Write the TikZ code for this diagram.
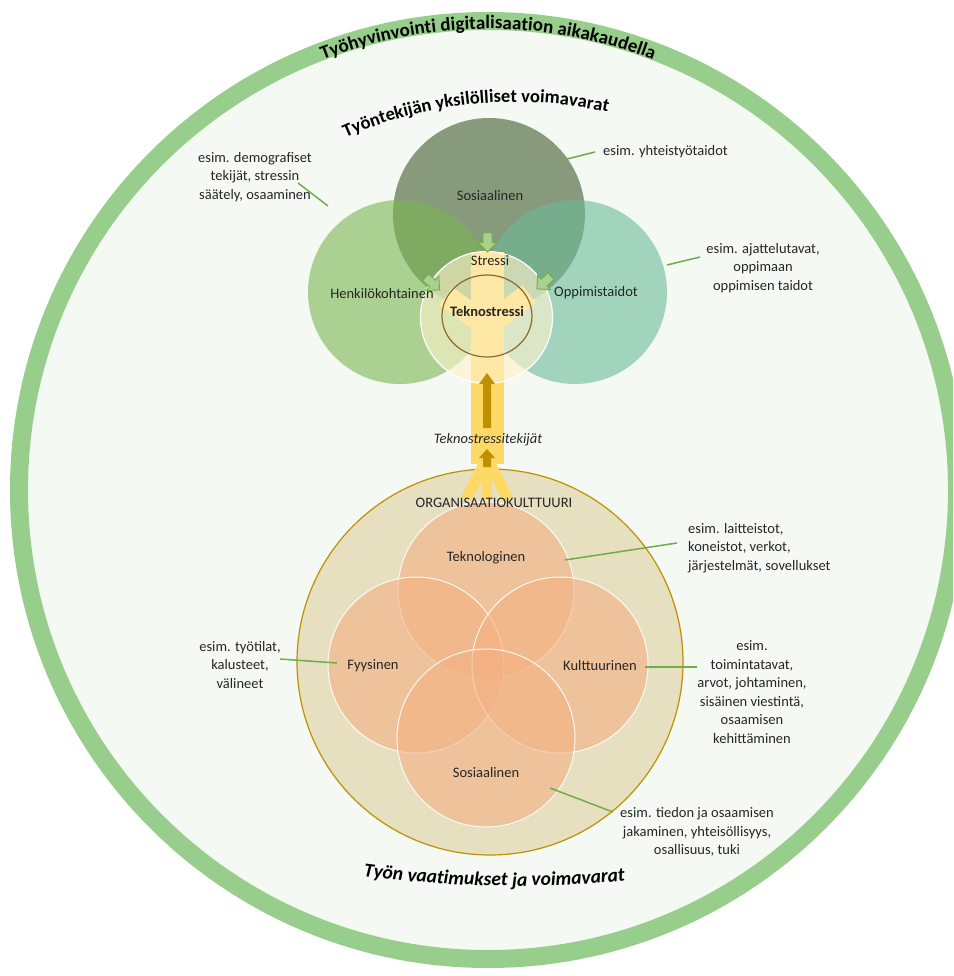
\documentclass[tikz,border=0pt]{standalone}
\usepackage{fontspec}
\setmainfont{Carlito}
\usetikzlibrary{decorations.text,shapes.geometric}
\definecolor{ringgreen}{HTML}{97CE8B}
\definecolor{bggreen}{HTML}{F4F9F3}
\definecolor{sosgreen}{HTML}{879A7C}
\definecolor{henkgreen}{HTML}{7AB552}
\definecolor{oppgreen}{HTML}{6CBC99}
\definecolor{leadergreen}{HTML}{70AD47}
\definecolor{arrowgreen}{HTML}{A9D18E}
\definecolor{bandyellow}{HTML}{FFD966}
\definecolor{gold}{HTML}{BF9000}
\definecolor{orgfill}{HTML}{E6DFC0}
\definecolor{orangec}{HTML}{F4B183}
\definecolor{cream}{HTML}{FFF2CC}
\definecolor{ellbrown}{HTML}{8C6A2E}
\definecolor{txt}{HTML}{262626}
\tikzset{
  disc/.style={circle, inner sep=0pt, minimum size=#1},
  lbl/.style={font=\fontsize{14.5}{18.5}\selectfont, text=txt, align=center, inner sep=0pt},
  leader/.style={draw=leadergreen, line width=1.5pt},
  orangedisc/.style={disc=#1, fill=orangec, fill opacity=0.6, draw=white, draw opacity=0.9, line width=1pt},
  garrowshape/.style={draw=leadergreen, fill=arrowgreen, line width=0.9pt, line join=miter},
  bandline/.style={draw=bandyellow, line width=#1}
}
\begin{document}
\begin{tikzpicture}[x=1pt,y=1pt]
\useasboundingbox (0,0) rectangle (953,-976);
\clip (0,0) rectangle (953,-976);
\fill[white] (0,0) rectangle (953,-976);
% outer ring
\fill[bggreen] (488,-490) circle (460);
\draw[ringgreen, line width=18pt] (488,-490) circle (469);
% titles
\path[decorate, decoration={text along path, text align={align=center},
  text={|\bfseries\fontsize{19}{19}\selectfont|Työhyvinvointi digitalisaation aikakaudella}}]
  (488,-490) ++(155:461) arc[start angle=155, end angle=25, radius=461];
\path[decorate, decoration={text along path, text align={align=center},
  text={|\bfseries\fontsize{18.5}{18}\selectfont|Työntekijän yksilölliset voimavarat}}]
  (515,-522) ++(135.5:420) arc[start angle=135.5, end angle=55.5, radius=420];
\path[decorate, decoration={text along path, text align={align=center},
  text={|\bfseries\itshape\fontsize{19.5}{19}\selectfont|Työn vaatimukset ja voimavarat}}]
  (515,314) ++(256:1200) arc[start angle=256, end angle=282, radius=1200];
% top circles
\node[disc=192pt, fill=sosgreen] (sos) at (489,-214) {};
\node[disc=184pt, fill=henkgreen, fill opacity=0.6] (henk) at (400,-292) {};
\node[disc=184pt, fill=oppgreen, fill opacity=0.6] (opp) at (575,-292) {};
% organisation circle
\node[disc=386pt, fill=orgfill, draw=gold, line width=1.2pt] (org) at (490,-662) {};
\node[orangedisc=176pt] (tek) at (486,-590) {};
\node[orangedisc=176pt] (fyy) at (416,-665) {};
\node[orangedisc=176pt] (kul) at (560,-665) {};
\node[orangedisc=178pt] (sos2) at (486,-738) {};
% yellow band
\coordinate (bandtop) at (487,-252);
\coordinate (bandbot) at (487,-464);
\coordinate (yc) at (487,-326);
\coordinate (yl) at (446,-296);
\coordinate (yr) at (529,-294);
\coordinate (bb) at (487,-458);
\coordinate (bl) at (466,-499);
\coordinate (bm) at (487,-499);
\coordinate (br) at (508,-499);
\draw[bandline=33pt] (bandtop) -- (bandbot);
\draw[bandline=22pt] (yl) -- (yc);
\draw[bandline=22pt] (yr) -- (yc);
\draw[bandline=11pt] (bb) -- (bl);
\draw[bandline=10pt] (bb) -- (bm);
\draw[bandline=11pt] (bb) -- (br);
% centre circle
\node[disc=132pt, fill=cream, fill opacity=0.62, draw=white, line width=1.2pt] (stressi) at (486.5,-317.5) {};
\node[ellipse, draw=ellbrown, line width=1.2pt, minimum width=90pt, minimum height=82pt, inner sep=0pt] (tekell) at (487,-316) {};
% green arrows
\draw[garrowshape, shift={(487.5,-242.5)}, rotate=-90]
  (-9.5,-4.5) -- (0,-4.5) -- (0,-9.5) -- (9.5,0) -- (0,9.5) -- (0,4.5) -- (-9.5,4.5) -- cycle;
\draw[garrowshape, shift={(432.5,-283.5)}, rotate=-42]
  (-9.5,-4.5) -- (0,-4.5) -- (0,-9.5) -- (9.5,0) -- (0,9.5) -- (0,4.5) -- (-9.5,4.5) -- cycle;
\draw[garrowshape, shift={(544,-282.5)}, rotate=-138]
  (-9.5,-4.5) -- (0,-4.5) -- (0,-9.5) -- (9.5,0) -- (0,9.5) -- (0,4.5) -- (-9.5,4.5) -- cycle;
% gold arrows
\fill[gold] (483,-428) -- (483,-384) -- (479,-384) -- (487,-373) -- (495,-384) -- (491,-384) -- (491,-428) -- cycle;
\fill[gold] (483,-467) -- (483,-458) -- (479,-458) -- (487,-449) -- (495,-458) -- (491,-458) -- (491,-467) -- cycle;
% circle labels
\node[lbl] (tsos) at (490,-196) {Sosiaalinen};
\node[lbl] (thenk) at (382,-294) {Henkilökohtainen};
\node[lbl] (topp) at (596,-293) {Oppimistaidot};
\node[lbl] (tstr) at (490,-261) {Stressi};
\node[lbl, font=\bfseries\fontsize{14.5}{18}\selectfont] (ttek) at (487,-311) {Teknostressi};
\node[lbl, font=\itshape\fontsize{14.5}{18}\selectfont] (ttekij) at (488,-440) {Teknostressitekijät};
\node[lbl] (torg) at (494,-503) {ORGANISAATIOKULTTUURI};
\node[lbl] (ttekn) at (486,-558) {Teknologinen};
\node[lbl] (tfyy) at (373,-666) {Fyysinen};
\node[lbl] (tkul) at (600,-666) {Kulttuurinen};
\node[lbl] (tsos2) at (486,-773) {Sosiaalinen};
% annotations
\node[lbl] (demo) at (255,-177) {esim. demografiset\\tekijät, stressin\\säätely, osaaminen};
\node[lbl, anchor=west] (yht) at (603,-152) {esim. yhteistyötaidot};
\node[lbl] (ajat) at (763,-268) {esim. ajattelutavat,\\oppimaan\\oppimisen taidot};
\node[lbl, align=left, anchor=west] (lait) at (688,-548) {esim. laitteistot,\\koneistot, verkot,\\järjestelmät, sovellukset};
\node[lbl] (tyot) at (240,-665) {esim. työtilat,\\kalusteet,\\välineet};
\node[lbl] (toim) at (752,-692) {esim.\\toimintatavat,\\arvot, johtaminen,\\sisäinen viestintä,\\osaamisen\\kehittäminen};
\node[lbl] (tied) at (697,-832) {esim. tiedon ja osaamisen\\jakaminen, yhteisöllisyys,\\osallisuus, tuki};
% leader lines
\coordinate (l1a) at (298,-183); \coordinate (l1b) at (328,-206);
\coordinate (l2a) at (567,-159); \coordinate (l2b) at (595,-152);
\coordinate (l3a) at (667,-265); \coordinate (l3b) at (700,-257);
\coordinate (l4a) at (565,-560); \coordinate (l4b) at (677,-543);
\coordinate (l5a) at (280,-659); \coordinate (l5b) at (337,-663);
\coordinate (l6a) at (645,-667); \coordinate (l6b) at (697,-667);
\coordinate (l7a) at (550,-788); \coordinate (l7b) at (613,-812);
\draw[leader] (l1a) -- (l1b);
\draw[leader] (l2a) -- (l2b);
\draw[leader] (l3a) -- (l3b);
\draw[leader] (l4a) -- (l4b);
\draw[leader] (l5a) -- (l5b);
\draw[leader] (l6a) -- (l6b);
\draw[leader] (l7a) -- (l7b);
\end{tikzpicture}
\end{document}
